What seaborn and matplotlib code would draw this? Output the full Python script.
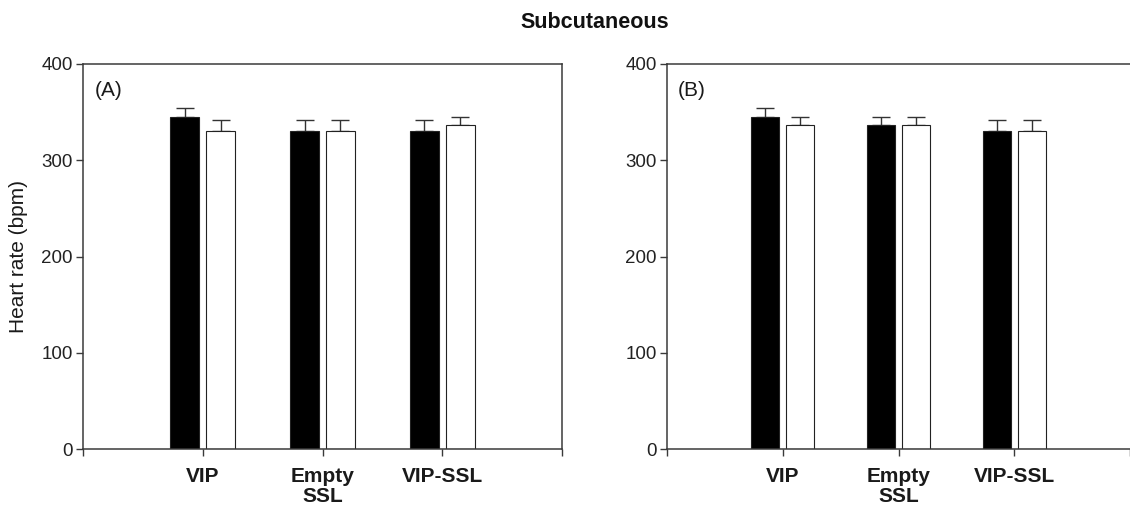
import matplotlib
matplotlib.use("Agg")
import matplotlib.pyplot as plt
import seaborn as sns
import pandas as pd
import numpy as np

# ---- data ----
groups = ["VIP", "Empty\nSSL", "VIP-SSL"]
series = ["Series 1", "Series 2"]

a_black = [345, 330, 330]
a_black_err = [9, 12, 12]
a_white = [330, 330, 337]
a_white_err = [12, 12, 8]

b_black = [345, 337, 330]
b_black_err = [9, 8, 12]
b_white = [337, 337, 330]
b_white_err = [8, 8, 12]

yticks = [0, 100, 200, 300, 400]
title = "Subcutaneous"
ylabel = "Heart rate (bpm)"
panel_labels = ["(A)", "(B)"]

sns.set_style("ticks")
plt.rcParams["font.family"] = ["Liberation Sans", "DejaVu Sans"]

W, H = 1130, 509
fig = plt.figure(figsize=(W / 100, H / 100), dpi=100)
SPINE = "#3a3a3a"

def make_df(black, white):
    return pd.DataFrame({
        "group": groups * 2,
        "series": [series[0]] * 3 + [series[1]] * 3,
        "value": list(black) + list(white),
    })

def draw(ax, black, black_err, white, white_err, label, xmax, show_right):
    df = make_df(black, white)
    sns.barplot(data=df, x="group", y="value", hue="series", order=groups,
                hue_order=series, palette=["black", "white"], width=0.6,
                gap=0.2, errorbar=None, edgecolor="#222222", linewidth=0.8,
                legend=False, ax=ax)
    # error bars (upper only), from the drawn bars
    bars = sorted(ax.patches, key=lambda p: p.get_x())
    errs = [e for pair in zip(black_err, white_err) for e in pair]
    xs = [p.get_x() + p.get_width() / 2 for p in bars]
    ys = [p.get_height() for p in bars]
    ax.errorbar(xs, ys, yerr=[np.zeros(len(errs)), errs], fmt="none",
                ecolor="#333333", elinewidth=1.0, capsize=6.5, capthick=1.0,
                zorder=1)
    for p in bars:
        p.set_zorder(2)
    ax.set_xlim(-1, xmax)
    ax.set_ylim(0, 400)
    ax.set_yticks(yticks)
    ax.set_yticklabels([str(t) for t in yticks], fontsize=13.5, color="#222222")
    ax.set_xticks([-1, 0, 1, 2, 3])
    ax.set_xticklabels([""] + groups + [""], fontsize=15, fontweight="bold",
                       color="#1a1a1a", linespacing=1.05)
    ax.tick_params(axis="x", length=5, width=1.0, pad=8, color=SPINE)
    ax.tick_params(axis="y", length=5, width=1.0, pad=2.5, color=SPINE)
    ax.set_xlabel("")
    ax.set_ylabel("")
    for s in ax.spines.values():
        s.set_color(SPINE)
        s.set_linewidth(1.1)
        s.set_visible(True)
    ax.spines["right"].set_visible(show_right)
    ax.text(0.054, 0.93, label, transform=ax.transAxes, ha="center",
            va="center", fontsize=15, color="#1a1a1a")

bottom = 1 - 449 / H
height = (449 - 64) / H
axA = fig.add_axes([83 / W, bottom, 479 / W, height])
axB = fig.add_axes([667 / W, bottom, (W - 667) / W, height])

draw(axA, a_black, a_black_err, a_white, a_white_err, panel_labels[0], 3, True)
draw(axB, b_black, b_black_err, b_white, b_white_err, panel_labels[1],
     -1 + (W - 667) / 119.75, False)

axA.set_ylabel(ylabel, fontsize=15, color="#1a1a1a")
axA.yaxis.set_label_coords(-0.115, 0.5)

fig.suptitle(title, x=595 / W, y=1 - 22 / H, va="center", fontsize=15.5,
             fontweight="bold", color="#111111")

fig.savefig("out.png", dpi=100, facecolor="white")
